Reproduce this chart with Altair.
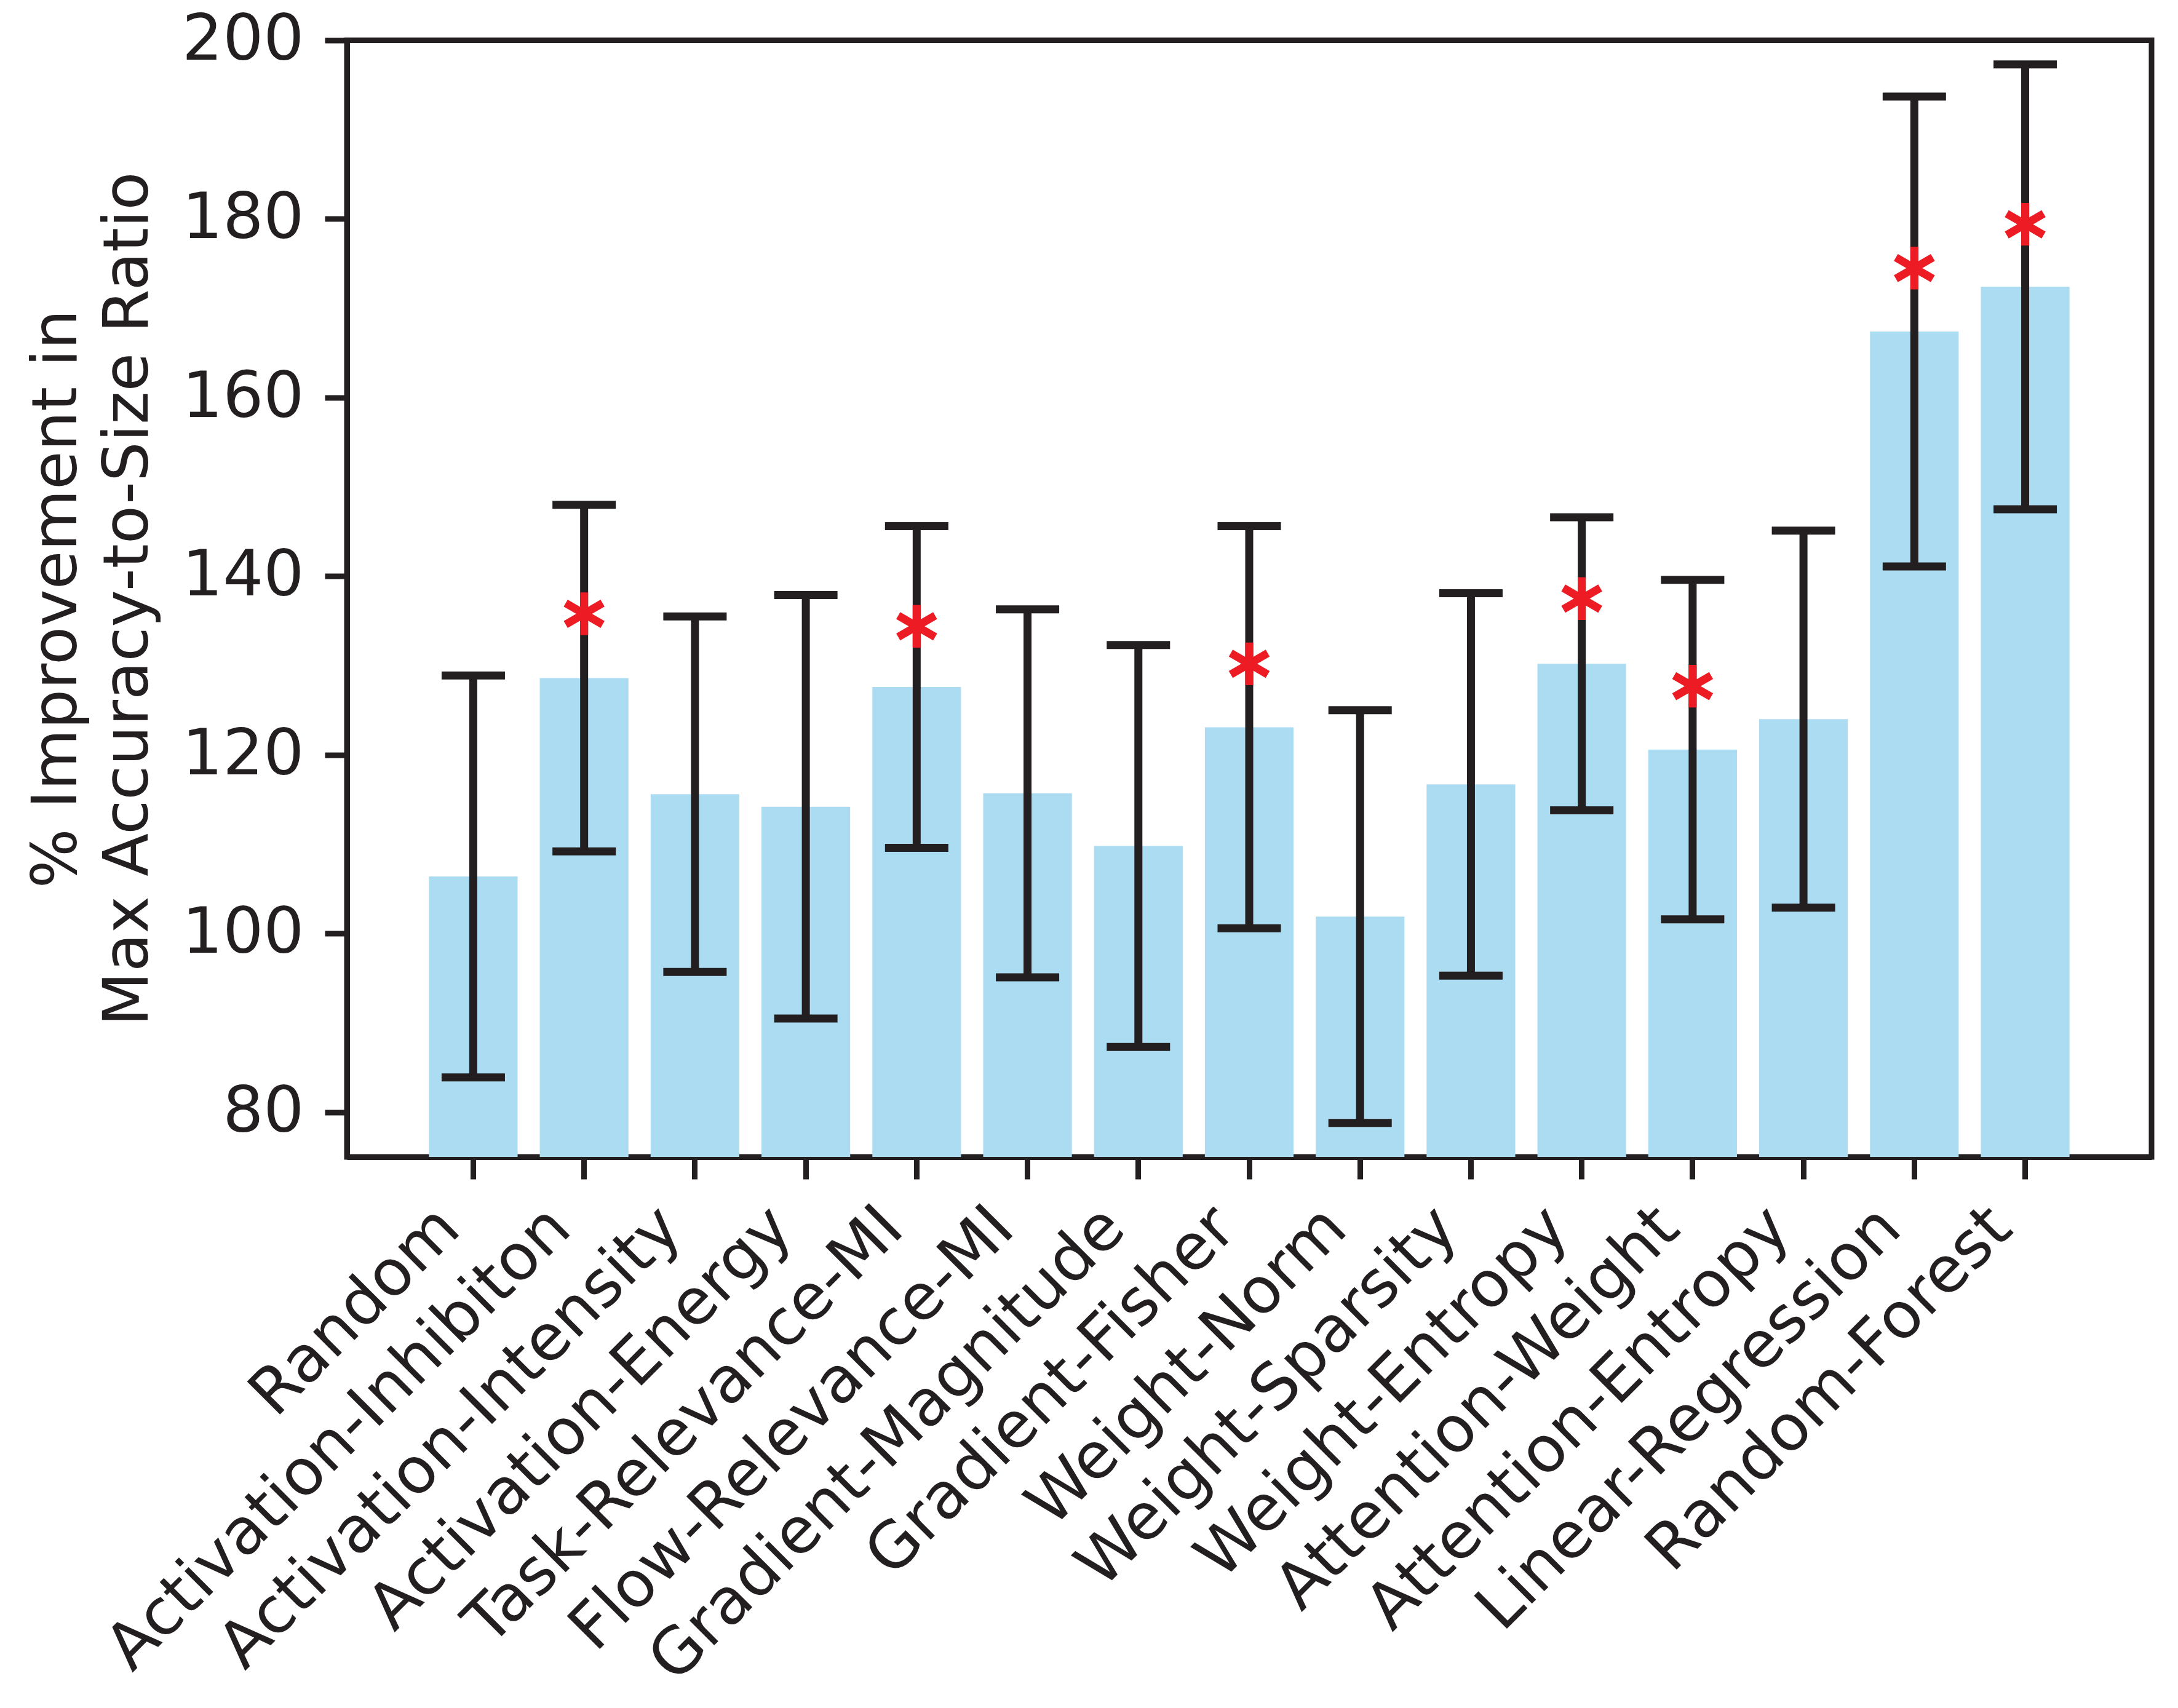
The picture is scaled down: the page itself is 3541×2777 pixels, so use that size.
import altair as alt
import pandas as pd

categories = ["Random", "Activation-Inhibiton", "Activation-Intensity", "Activation-Energy",
              "Task-Relevance-MI", "Flow-Relevance-MI", "Gradient-Magnitude", "Gradient-Fisher",
              "Weight-Norm", "Weight-Sparsity", "Weight-Entropy", "Attention-Weight",
              "Attention-Entropy", "Linear-Regression", "Random-Forest"]
means = [106.4, 128.6, 115.6, 114.2, 127.6, 115.7, 109.8, 123.1, 101.9, 116.7, 130.2, 120.6, 124.0, 167.4, 172.4]
errors = [22.5, 19.4, 19.9, 23.7, 18.0, 20.6, 22.5, 22.5, 23.1, 21.4, 16.4, 19.0, 21.1, 26.3, 24.9]
stars = [None, 135.8, None, None, 134.4, None, None, 130.2, None, None, 137.5, 127.7, None, 174.5, 179.4]
y_ticks = [80, 100, 120, 140, 160, 180, 200]
Y_MIN, Y_MAX = 75, 200

df = pd.DataFrame({
    "category": categories,
    "mean": means,
    "lo": [m - e for m, e in zip(means, errors)],
    "hi": [m + e for m, e in zip(means, errors)],
    "star": stars,
})

INK = "#231F20"
FONT = "DejaVu Sans"
STAR_PATH = "M0,-1L0,1M-0.866,-0.5L0.866,0.5M-0.866,0.5L0.866,-0.5"

x = alt.X("category:N", sort=categories,
          scale=alt.Scale(paddingInner=0.2, paddingOuter=0.74),
          axis=alt.Axis(title=None, labelAngle=315, labelAlign="right",
                        labelBaseline="alphabetic", labelOffset=-17, labelPadding=85,
                        labelFontSize=104, labelLimit=3000, labelOverlap=False,
                        tickSize=36, tickWidth=9, domainWidth=9))
yscale = alt.Scale(domain=[Y_MIN, Y_MAX], nice=False, zero=False)
yaxis = alt.Axis(values=y_ticks, tickSize=36, tickWidth=9, domainWidth=9,
                 labelFontSize=104, labelPadding=34, labelLimit=3000,
                 title=["% Improvement in", "Max Accuracy-to-Size Ratio"],
                 titleFontSize=102, titleFontWeight="normal", titleAngle=270,
                 titleX=-441, titleY=907.75, titleAlign="center",
                 titleBaseline="alphabetic", titleLineHeight=116, grid=False)

base = alt.Chart(df)

bars = base.mark_bar(color="#ACDCF1").encode(
    x=x,
    y=alt.Y("mean:Q", scale=yscale, axis=yaxis),
    y2=alt.datum(Y_MIN),
)
rule = base.mark_rule(color=INK, strokeWidth=13).encode(
    x=x, y=alt.Y("lo:Q", scale=yscale), y2="hi:Q")
cap_lo = base.mark_tick(color=INK, thickness=13, size=103, opacity=1).encode(
    x=x, y=alt.Y("lo:Q", scale=yscale))
cap_hi = base.mark_tick(color=INK, thickness=13, size=103, opacity=1).encode(
    x=x, y=alt.Y("hi:Q", scale=yscale))
star_pts = base.transform_filter("datum.star != null").mark_point(
    shape=STAR_PATH, size=4800, filled=False, stroke="#ED1C24",
    strokeWidth=13, strokeCap="butt", opacity=1).encode(
    x=x, y=alt.Y("star:Q", scale=yscale))

chart = alt.layer(bars, rule, cap_lo, cap_hi, star_pts).properties(
    width=2934, height=1815.5,
    autosize=alt.AutoSizeParams(type="none"),
    padding={"left": 556, "top": 57.5, "right": 35, "bottom": 880},
).configure_view(stroke=INK, strokeWidth=9).configure_axis(
    domainColor=INK, tickColor=INK, labelColor=INK, titleColor=INK,
    labelFont=FONT, titleFont=FONT, zindex=1, grid=False,
)

chart.save("out.html", embed_options={"renderer": "svg", "actions": False})
